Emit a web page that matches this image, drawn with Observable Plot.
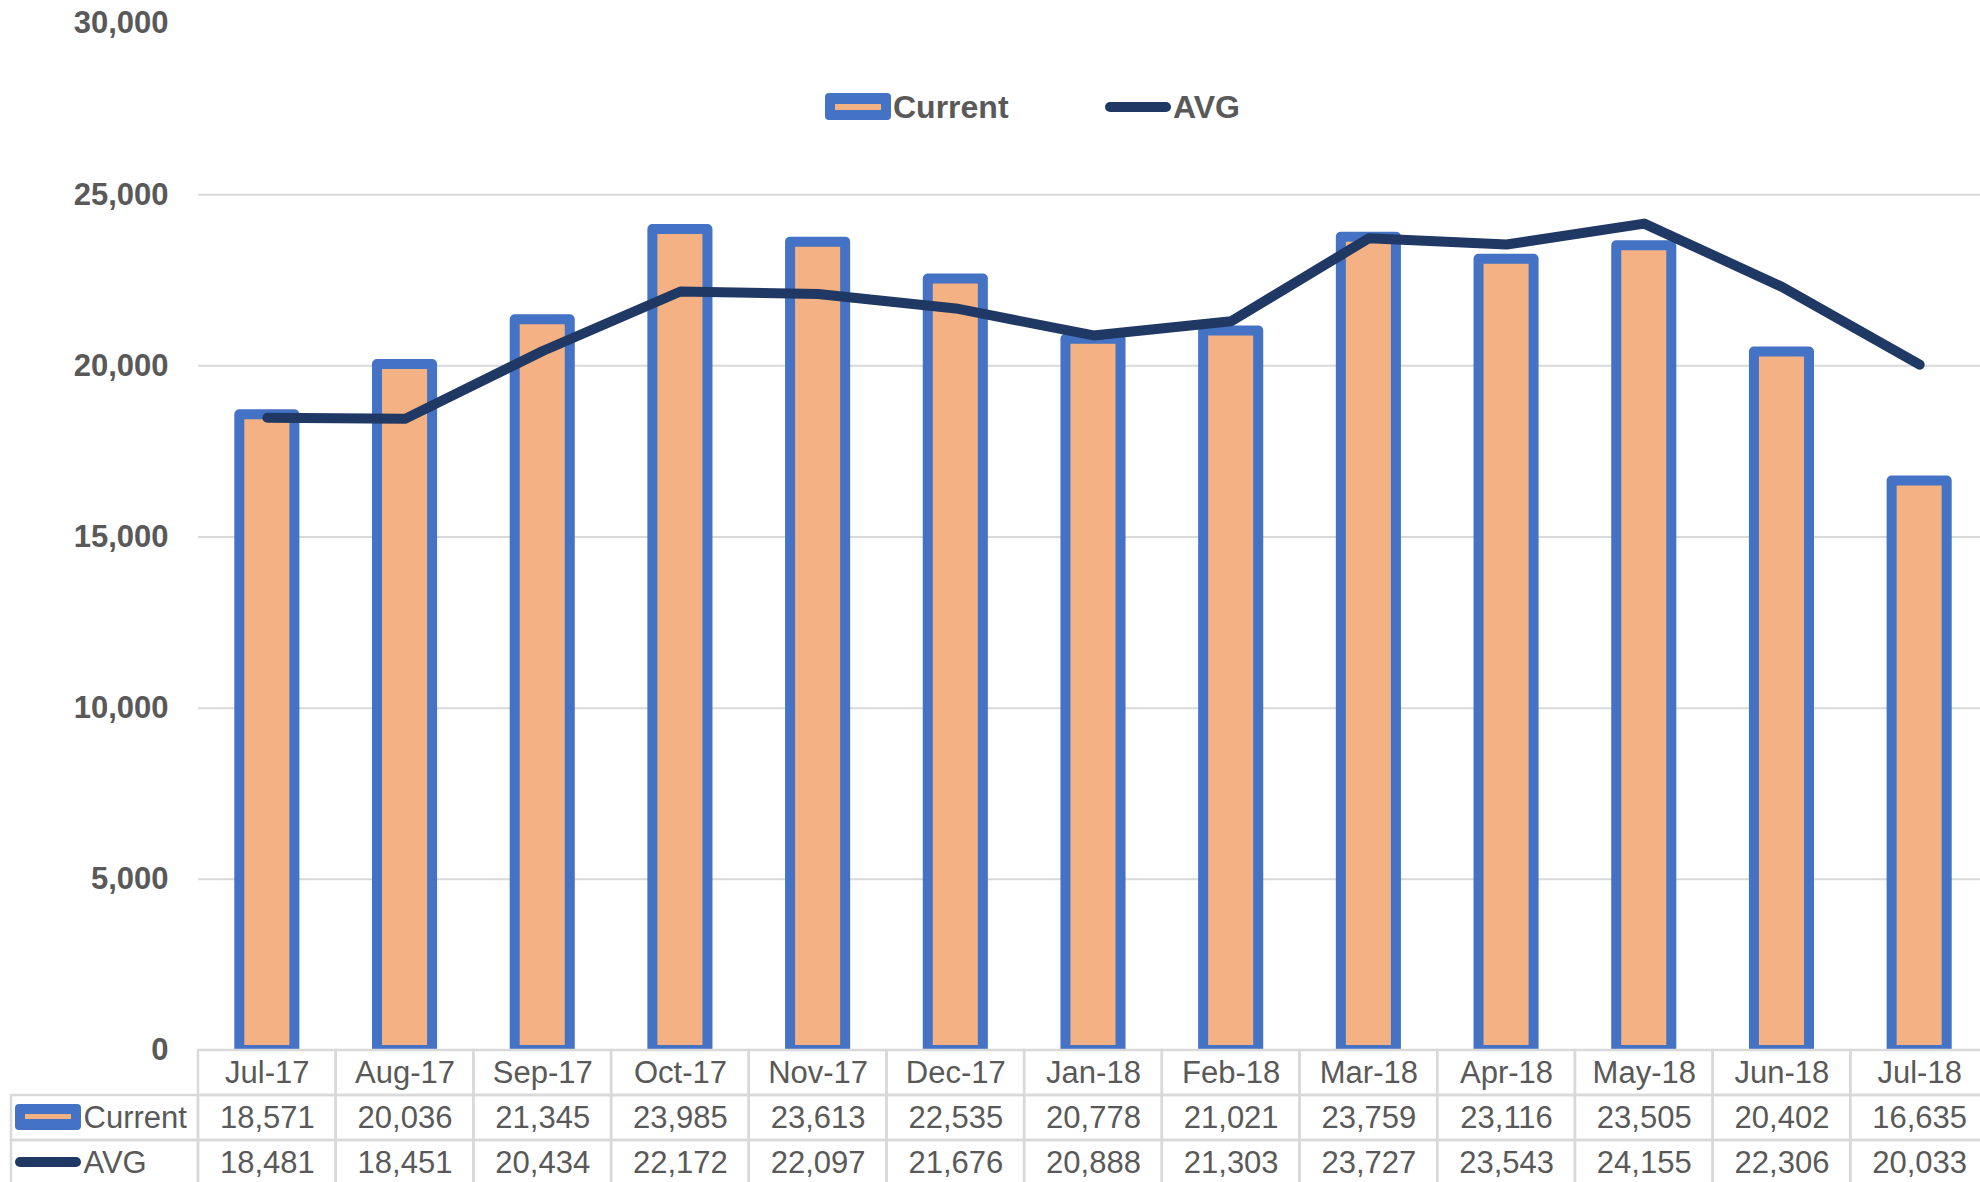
<!DOCTYPE html>
<html>
<head>
<meta charset="utf-8">
<script src="https://cdn.jsdelivr.net/npm/d3@7"></script>
<script src="https://cdn.jsdelivr.net/npm/@observablehq/plot@0.6"></script>
<style>
  html, body { margin: 0; padding: 0; background: #fff; overflow: hidden; }
  #wrap { position: relative; width: 1980px; height: 1182px; font-family: "Liberation Sans", Arial, sans-serif; color: #595959; }
  #wrap > svg, #wrap > figure { position: absolute; left: 0; margin: 0; }
  .abs { position: absolute; }
  .legtext { font-size: 32px; font-weight: bold; line-height: 32px; white-space: nowrap; }
</style>
</head>
<body>
<div id="wrap"></div>
<script>
const months = ["Jul-17","Aug-17","Sep-17","Oct-17","Nov-17","Dec-17","Jan-18","Feb-18","Mar-18","Apr-18","May-18","Jun-18","Jul-18"];
const current = [18571,20036,21345,23985,23613,22535,20778,21021,23759,23116,23505,20402,16635];
const avg = [18481,18451,20434,22172,22097,21676,20888,21303,23727,23543,24155,22306,20033];
const yTicks = [0,5000,10000,15000,20000,25000,30000];
const gridTicks = [5000,10000,15000,20000,25000];
const seriesNames = ["Current","AVG"];

const data = months.map((m, i) => ({month: m, current: current[i], avg: avg[i]}));
const fmt = d3.format(",");

const wrap = document.getElementById("wrap");

const chart = Plot.plot({
  width: 1980,
  height: 1182,
  marginTop: 23,
  marginBottom: 132,
  marginLeft: 198,
  marginRight: 0,
  style: {fontFamily: '"Liberation Sans", Arial, sans-serif', fontSize: "31px", fontWeight: "bold", color: "#595959", background: "transparent"},
  x: {domain: months, range: [198, 1988], paddingInner: 0.6, paddingOuter: 0.3, round: false, axis: null},
  y: {domain: [0, 30000], range: [1050, 23], ticks: yTicks, tickFormat: fmt, tickSize: 0, tickPadding: 30, label: null},
  marks: [
    Plot.ruleY(gridTicks, {stroke: "#D9D9D9", strokeWidth: 2}),
    Plot.barY(data, {x: "month", y: "current", fill: "#F4B183", stroke: "#4472C4", strokeWidth: 10, strokeLinejoin: "round", inset: 0, clip: true}),
    Plot.lineY(data, {x: "month", y: "avg", stroke: "#203864", strokeWidth: 10, strokeLinecap: "round", strokeLinejoin: "round"})
  ]
});
chart.style.top = "0px";
wrap.appendChild(chart);

// Data table under the chart
const hdr = 187 / 137.7;
const cells = [];
months.forEach((m, i) => {
  cells.push({x1: i, x2: i + 1, y1: 0, y2: 1});
  cells.push({x1: i, x2: i + 1, y1: 1, y2: 2});
  cells.push({x1: i, x2: i + 1, y1: 2, y2: 3});
});
cells.push({x1: -hdr, x2: 0, y1: 1, y2: 2});
cells.push({x1: -hdr, x2: 0, y1: 2, y2: 3});

const texts = [];
months.forEach((m, i) => {
  texts.push({x: i + 0.5, y: 0.5, t: m});
  texts.push({x: i + 0.5, y: 1.5, t: fmt(current[i])});
  texts.push({x: i + 0.5, y: 2.5, t: fmt(avg[i])});
});
const rowLabels = seriesNames.map((s, k) => ({x: -hdr, y: 1.5 + k, t: s}));

const table = Plot.plot({
  width: 1980,
  height: 142,
  margin: 0,
  style: {fontFamily: '"Liberation Sans", Arial, sans-serif', fontSize: "31px", color: "#595959", background: "transparent"},
  x: {type: "linear", domain: [-hdr, 13], range: [11, 1988], axis: null},
  y: {type: "linear", domain: [0, 3], range: [10, 145], axis: null},
  marks: [
    Plot.rect(cells, {x1: "x1", x2: "x2", y1: "y1", y2: "y2", fill: "none", stroke: "#D9D9D9", strokeWidth: 2.5}),
    Plot.text(texts, {x: "x", y: "y", text: "t", fill: "#595959", fontSize: 31}),
    Plot.text(rowLabels, {x: "x", y: "y", text: "t", fill: "#595959", fontSize: 31, textAnchor: "start", dx: 72})
  ]
});
table.style.top = "1040px";
table.style.pointerEvents = "none";
wrap.appendChild(table);

// Legend swatches (HTML)
function el(style) {
  const d = document.createElement("div");
  d.className = "abs";
  Object.assign(d.style, style);
  wrap.appendChild(d);
  return d;
}
// top legend
el({left: "825px", top: "93px", width: "66px", height: "27px", background: "#4472C4", borderRadius: "4px"});
el({left: "835px", top: "104px", width: "46px", height: "6px", background: "#F4B183"});
const l1 = el({left: "893px", top: "91px"}); l1.className = "abs legtext"; l1.textContent = seriesNames[0];
el({left: "1105px", top: "102px", width: "66px", height: "10px", background: "#203864", borderRadius: "5px"});
const l2 = el({left: "1173px", top: "91px"}); l2.className = "abs legtext"; l2.textContent = seriesNames[1];
// table row keys
el({left: "15px", top: "1104px", width: "66px", height: "26px", background: "#4472C4", borderRadius: "4px"});
el({left: "25px", top: "1114px", width: "46px", height: "5px", background: "#F4B183"});
el({left: "15px", top: "1157px", width: "66px", height: "10px", background: "#203864", borderRadius: "5px"});
</script>
</body>
</html>
